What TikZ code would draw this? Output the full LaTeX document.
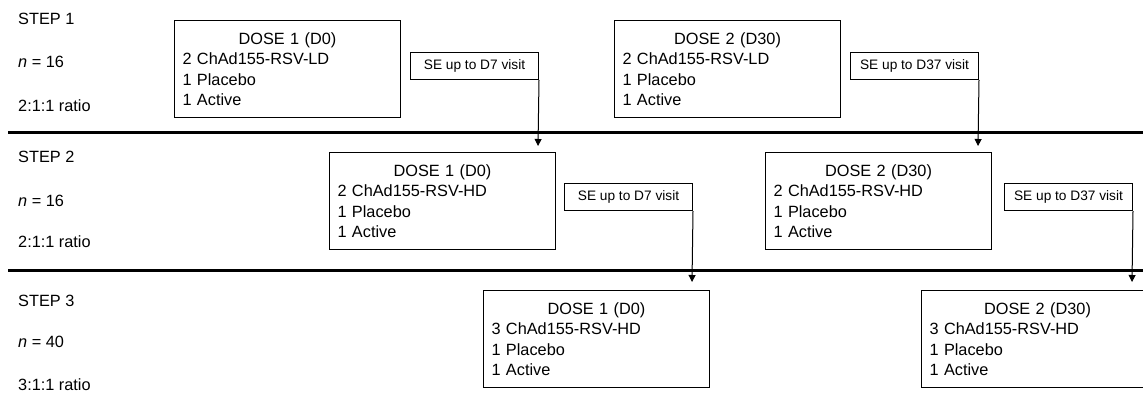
\documentclass[tikz,border=0pt]{standalone}
\usepackage{fontspec}
\setmainfont{Liberation Sans}
\usetikzlibrary{arrows.meta}

\tikzset{
  txt/.style={anchor=base west, inner sep=0pt, font=\fontsize{16.3}{20.5}\selectfont},
  dosebox/.style={draw, line width=1pt, anchor=north west, minimum width=226pt,
    minimum height=97pt, text width=210pt, inner xsep=8pt, align=left,
    font=\fontsize{16.3}{20.5}\selectfont},
  sebox/.style={draw, line width=1pt, anchor=north west, minimum width=128pt,
    minimum height=27pt, inner sep=0pt, font=\fontsize{13.7}{16}\selectfont},
  sepline/.style={line width=3pt},
  visit/.style={line width=1pt, -{Triangle[width=7pt,length=7pt]}}
}
\newcommand{\doselist}[2]{\makebox[\linewidth]{#1}\\#2\\1 Placebo\\1 Active}

\begin{document}
\begin{tikzpicture}[x=1pt, y=-1pt]
  \useasboundingbox (0,0) rectangle (1143,393);
  % step labels
  \node[txt] (st1) at (18,25) {STEP 1};
  \node[txt] (n1) at (18,68) {\textit{n} = 16};
  \node[txt] (r1) at (18,112) {2:1:1 ratio};
  \node[txt] (st2) at (18,163) {STEP 2};
  \node[txt] (n2) at (18,206) {\textit{n} = 16};
  \node[txt] (r2) at (18,247) {2:1:1 ratio};
  \node[txt] (st3) at (18,306) {STEP 3};
  \node[txt] (n3) at (18,347) {\textit{n} = 40};
  \node[txt] (r3) at (18,390) {3:1:1 ratio};
  % separators
  \draw[sepline] (8,133) -- (1143,133);
  \draw[sepline] (8,270) -- (1143,270);
  % dose boxes
  \node[dosebox] (s1d1) at (174,20) {\doselist{DOSE 1 (D0)}{2 ChAd155-RSV-LD}};
  \node[dosebox] (s1d2) at (614,20) {\doselist{DOSE 2 (D30)}{2 ChAd155-RSV-LD}};
  \node[dosebox] (s2d1) at (329,152) {\doselist{DOSE 1 (D0)}{2 ChAd155-RSV-HD}};
  \node[dosebox] (s2d2) at (765,152) {\doselist{DOSE 2 (D30)}{2 ChAd155-RSV-HD}};
  \node[dosebox] (s3d1) at (483,290) {\doselist{DOSE 1 (D0)}{3 ChAd155-RSV-HD}};
  \node[dosebox, minimum width=232pt, text width=216pt] (s3d2) at (921,290) {\doselist{DOSE 2 (D30)}{3 ChAd155-RSV-HD}};
  % safety boxes and arrows
  \node[sebox] (se1) at (410,52) {SE up to D7 visit};
  \node[sebox] (se2) at (850,52) {SE up to D37 visit};
  \node[sebox] (se3) at (564,183) {SE up to D7 visit};
  \node[sebox] (se4) at (1004,183) {SE up to D37 visit};
  \coordinate (a1) at (538,146);
  \coordinate (a2) at (978,146);
  \coordinate (a3) at (692,282);
  \coordinate (a4) at (1132,282);
  \draw[visit] (se1.south east) -- (a1);
  \draw[visit] (se2.south east) -- (a2);
  \draw[visit] (se3.south east) -- (a3);
  \draw[visit] (se4.south east) -- (a4);
\end{tikzpicture}
\end{document}
